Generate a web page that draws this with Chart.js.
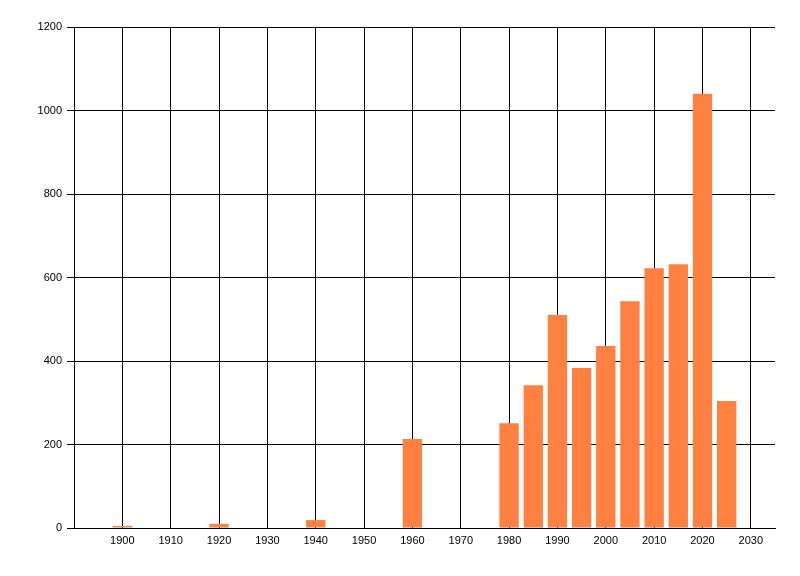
<!DOCTYPE html>
<html>
<head>
<meta charset="utf-8">
<script src="https://cdn.jsdelivr.net/npm/chart.js@4/dist/chart.umd.min.js"></script>
<style>
  html, body { margin: 0; padding: 0; background: #ffffff; }
  #wrap { width: 800px; height: 576px; }
</style>
</head>
<body>
<div id="wrap"><canvas id="c" width="800" height="576"></canvas></div>
<script>
const years  = [1900, 1920, 1940, 1960, 1980, 1985, 1990, 1995, 2000, 2005, 2010, 2015, 2020, 2025];
const counts = [5, 10, 19, 213, 251, 342, 510, 383, 436, 543, 622, 632, 1040, 304];
const xTickValues = [1900, 1910, 1920, 1930, 1940, 1950, 1960, 1970, 1980, 1990, 2000, 2010, 2020, 2030];
const yTickValues = [0, 200, 400, 600, 800, 1000, 1200];

const points = years.map((y, i) => ({ x: y, y: counts[i] }));

const font = { family: "'Liberation Sans', Arial, sans-serif", size: 11 };

new Chart(document.getElementById('c'), {
  type: 'bar',
  data: {
    datasets: [{
      data: points,
      backgroundColor: '#FF8040',
      borderWidth: 0,
      barPercentage: 1.0,
      categoryPercentage: 0.8
    }]
  },
  options: {
    responsive: false,
    animation: false,
    devicePixelRatio: 1,
    layout: { padding: { left: 0, right: 25, top: 27, bottom: 0 } },
    plugins: { legend: { display: false }, tooltip: { enabled: false } },
    scales: {
      x: {
        type: 'linear',
        min: 1890,
        max: 2035,
        offset: false,
        afterBuildTicks: (s) => { s.ticks = xTickValues.map(v => ({ value: v })); },
        afterFit: (s) => { s.height = 48; },
        grid: { color: '#000000', lineWidth: 1, drawTicks: false, offset: false },
        border: { color: '#000000', width: 1 },
        ticks: { color: '#000000', font: font, padding: 6, autoSkip: false, maxRotation: 0,
                 callback: (v) => String(v) }
      },
      y: {
        min: 0,
        max: 1200,
        afterBuildTicks: (s) => { s.ticks = yTickValues.map(v => ({ value: v })); },
        afterFit: (s) => { s.width = 74; },
        grid: { color: '#000000', lineWidth: 1, drawTicks: true, tickLength: 7, tickColor: '#000000' },
        border: { color: '#000000', width: 1 },
        ticks: { color: '#000000', font: font, padding: 5, callback: (v) => String(v) }
      }
    }
  }
});
</script>
</body>
</html>
